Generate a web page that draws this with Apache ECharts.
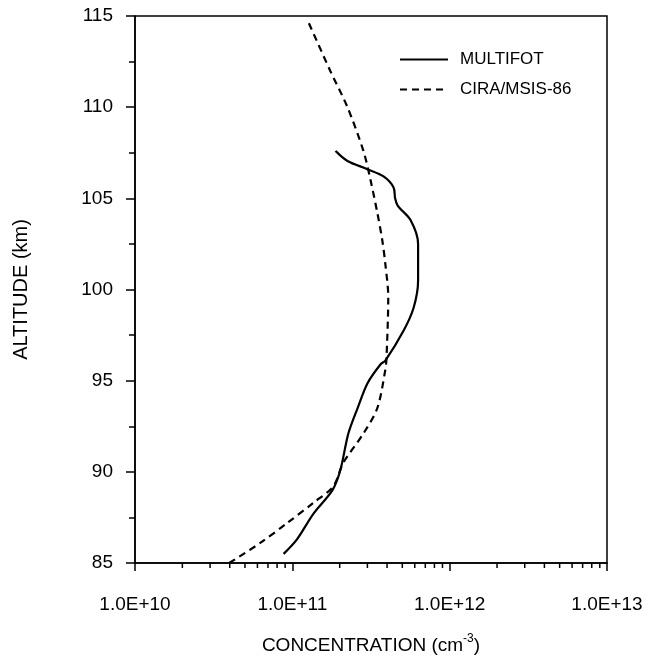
<!DOCTYPE html>
<html>
<head>
<meta charset="utf-8">
<script src="https://cdn.jsdelivr.net/npm/echarts@6/dist/echarts.min.js"></script>
<style>
  html, body { margin: 0; padding: 0; background: #fff; }
  #chart { width: 649px; height: 664px; }
</style>
</head>
<body>
<div id="chart"></div>
<script>
// MULTIFOT measured profile: [concentration cm^-3, altitude km]
const multifotConc = [8.8e10, 1.07e11, 1.36e11, 1.8e11, 2.02e11, 2.27e11, 2.6e11, 3.0e11, 3.64e11, 3.9e11,
  5.1e11, 5.9e11, 6.3e11, 6.3e11, 5.65e11, 4.67e11, 4.5e11, 4.4e11, 3.8e11, 3.0e11, 2.24e11, 1.88e11];
const multifotAlt = [85.5, 86.3, 87.7, 89.0, 90.1, 92.1, 93.5, 94.85, 95.9, 96.1,
  97.75, 99.0, 100.5, 102.5, 103.8, 104.6, 105.0, 105.6, 106.2, 106.6, 107.05, 107.6];

// CIRA/MSIS-86 model profile
const ciraConc = [3.97e10, 6.25e10, 9.3e10, 1.36e11, 1.82e11, 2.11e11, 2.83e11, 3.47e11, 3.9e11, 3.97e11,
  4.07e11, 3.9e11, 3.73e11, 3.47e11, 3.14e11, 2.83e11, 2.24e11, 1.74e11, 1.26e11];
const ciraAlt = [85.0, 86.1, 87.2, 88.3, 89.2, 90.5, 92.1, 93.5, 95.6, 96.3,
  99.6, 101.4, 102.7, 104.2, 106.0, 107.6, 110.0, 112.0, 114.7];

const seriesNames = ["MULTIFOT", "CIRA/MSIS-86"];
const decades = [1e10, 1e11, 1e12];
const minorMult = [2, 3, 4, 5, 6, 7, 8, 9];

let minorTicks = [];
for (let d of decades) {
  for (let m of minorMult) {
    minorTicks.push([d * m, 85]);
  }
}

const zip = (xs, ys) => xs.map((x, i) => [x, ys[i]]);

let chart = echarts.init(document.getElementById("chart"));

const option = {
  animation: false,
  backgroundColor: "#fff",
  textStyle: { fontFamily: "Liberation Sans, Arial, sans-serif", color: "#000" },
  grid: {
    left: 135,
    right: 42,
    top: 16,
    bottom: 101,
    show: true,
    borderColor: "#000",
    borderWidth: 1.5,
  },
  legend: {
    orient: "vertical",
    left: 394,
    top: 46,
    itemWidth: 48,
    itemHeight: 14,
    itemGap: 13,
    data: seriesNames,
    itemStyle: { opacity: 0 },
    textStyle: { fontSize: 17, color: "#000", fontFamily: "Liberation Sans", padding: [0, 0, 0, 7] },
  },
  xAxis: {
    type: "log",
    logBase: 10,
    min: 1e10,
    max: 1e13,
    name: "CONCENTRATION {a|(cm}{s|-3}{a|)}",
    nameLocation: "middle",
    nameGap: 70,
    nameTextStyle: {
      fontSize: 19,
      color: "#000",
      rich: {
        a: { fontSize: 19, color: "#000", fontFamily: "Liberation Sans" },
        s: { fontSize: 12, color: "#000", verticalAlign: "bottom", padding: [0, 0, 14, 0], fontFamily: "Liberation Sans" },
      },
    },
    axisLine: { show: true, lineStyle: { color: "#000", width: 1.5 } },
    axisTick: { show: true, length: 8, lineStyle: { color: "#000", width: 1.5 } },
    axisLabel: {
      fontSize: 19,
      color: "#000",
      margin: 32,
      formatter: function (value) {
        return "1.0E+" + Math.round(Math.log10(value));
      },
    },
    splitLine: { show: false },
  },
  yAxis: {
    type: "value",
    min: 85,
    max: 115,
    interval: 5,
    name: "ALTITUDE (km)",
    nameLocation: "middle",
    nameGap: 104,
    nameTextStyle: { fontSize: 20, color: "#000" },
    axisLine: { show: true, lineStyle: { color: "#000", width: 1.5 } },
    axisTick: { show: true, length: 9, lineStyle: { color: "#000", width: 1.5 } },
    minorTick: { show: true, splitNumber: 2, length: 6, lineStyle: { color: "#000", width: 1.5 } },
    axisLabel: { fontSize: 19, color: "#000", margin: 22 },
    splitLine: { show: false },
  },
  series: [
    {
      name: seriesNames[0],
      type: "line",
      symbol: "none",
      smooth: 0.3,
      lineStyle: { color: "#000", width: 2.2, type: "solid" },
      itemStyle: { color: "#000" },
      data: zip(multifotConc, multifotAlt),
    },
    {
      name: seriesNames[1],
      type: "line",
      symbol: "none",
      smooth: 0.3,
      lineStyle: { color: "#000", width: 2.2, type: [7, 5] },
      itemStyle: { color: "#000" },
      data: zip(ciraConc, ciraAlt),
    },
    {
      // log-scale minor ticks on the x axis
      type: "custom",
      silent: true,
      clip: false,
      renderItem: function (params, api) {
        const p = api.coord([api.value(0), api.value(1)]);
        return {
          type: "line",
          shape: { x1: p[0], y1: p[1], x2: p[0], y2: p[1] + 5 },
          style: { stroke: "#000", lineWidth: 1.5 },
        };
      },
      data: minorTicks,
    },
  ],
};

chart.setOption(option);
</script>
</body>
</html>
